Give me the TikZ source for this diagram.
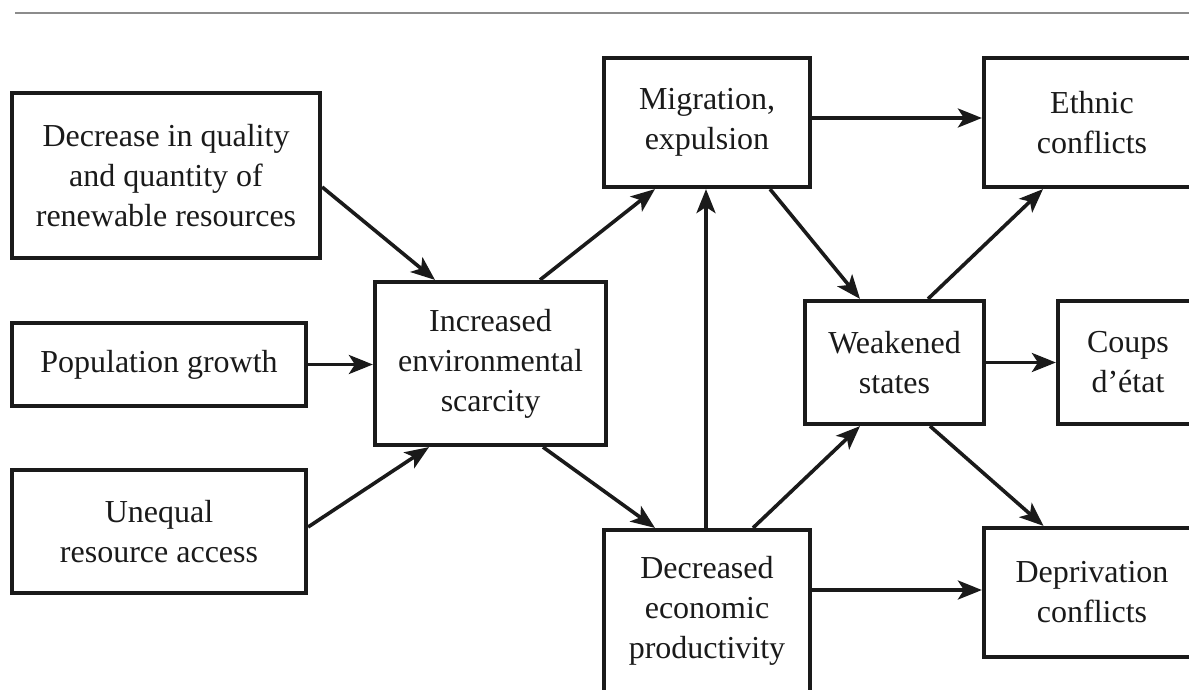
\documentclass[tikz,border=0pt]{standalone}
\usepackage{fontspec}
\setmainfont{Liberation Serif}
\usetikzlibrary{arrows.meta}
\definecolor{ink}{HTML}{1A1A1A}
\definecolor{rule}{HTML}{8C8C8C}
\begin{document}
\begin{tikzpicture}[x=1pt,y=-1pt,
  box/.style={draw=ink, line width=4.2pt, rectangle, inner sep=0pt,
    align=center, text=ink, font=\fontsize{32}{40}\selectfont},
  arr/.style={draw=ink, line width=3.6pt,
    -{Stealth[length=24pt,width=19pt,inset=6pt]}}]
  % page frame
  \fill[white] (0,0) rectangle (1189,690);
  \useasboundingbox (0,0) rectangle (1189,690);
  % thin rule along the top
  \draw[rule, line width=1.6pt] (15,13) -- (1189,13);

  % causes
  \node[box, minimum width=308pt, minimum height=165pt] (A) at (166,175.5)
    {Decrease in quality\\and quantity of\\renewable resources};
  \node[box, minimum width=294pt, minimum height=83pt] (B) at (159,364.5)
    {Population growth};
  \node[box, minimum width=294pt, minimum height=123pt] (C) at (159,531.5)
    {Unequal\\resource access};
  % scarcity
  \node[box, minimum width=231pt, minimum height=163pt] (D) at (490.5,363.5)
    {Increased\\environmental\\scarcity};
  % social effects
  \node[box, minimum width=206pt, minimum height=129pt] (E) at (707,122.5)
    {Migration,\\expulsion};
  \node[box, minimum width=206pt, minimum height=162pt] (F) at (707,611)
    {Decreased\\economic\\productivity};
  \node[box, minimum width=179pt, minimum height=123pt] (G) at (894.5,362.5)
    {Weakened\\states};
  % conflicts
  \node[box, minimum width=216pt, minimum height=129pt] (H) at (1092,122.5)
    {Ethnic\\conflicts};
  \node[box, minimum width=140pt, minimum height=123pt] (I) at (1128,362.5)
    {Coups\\d’état};
  \node[box, minimum width=216pt, minimum height=129pt] (J) at (1092,592.5)
    {Deprivation\\conflicts};

  % causal links
  \draw[arr] ([yshift=-11.5pt]A.east) -- ([xshift=-55.5pt]D.north);
  \draw[arr] (B.east) -- (D.west |- B.east);
  \draw[arr] ([yshift=4.5pt]C.east) -- ([xshift=-61.5pt]D.south);
  \draw[arr] ([xshift=49.5pt]D.north) -- ([xshift=-52pt]E.south);
  \draw[arr] ([xshift=52.5pt]D.south) -- ([xshift=-52pt]F.north);
  \draw[arr] ([xshift=-1pt]F.north) -- ([xshift=-1pt]E.south);
  \draw[arr] ([yshift=4.5pt]E.east) -- ([yshift=4.5pt]H.west);
  \draw[arr] ([xshift=63pt]E.south) -- ([xshift=-34.5pt]G.north);
  \draw[arr] ([xshift=46pt]F.north) -- ([xshift=-34.5pt]G.south);
  \draw[arr] ([xshift=33.5pt]G.north) -- ([xshift=-49pt]H.south);
  \draw[arr] (G.east) -- (I.west);
  \draw[arr] ([xshift=35.5pt]G.south) -- ([xshift=-48.5pt]J.north);
  \draw[arr] ([yshift=21pt]F.east) coordinate (f13) -- (f13 -| J.west);
\end{tikzpicture}
\end{document}
